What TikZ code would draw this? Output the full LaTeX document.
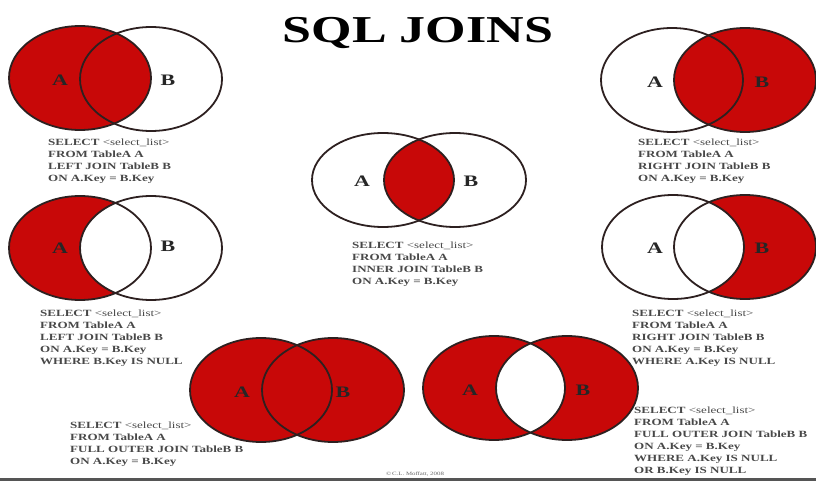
\documentclass[tikz,border=0pt]{standalone}
\usepackage{fontspec}
\setmainfont{Liberation Serif}
\newfontfamily\sqlfont[FakeStretch=1.37]{Liberation Serif}
\definecolor{joinred}{RGB}{200,8,8}
\definecolor{rimgray}{RGB}{45,32,32}
\definecolor{codegray}{RGB}{72,72,72}
\definecolor{bargray}{RGB}{85,85,85}

\tikzset{
  rim/.style={draw=rimgray, line width=1.8pt},
  setlabel/.style={font=\sqlfont\bfseries\fontsize{16}{16}\selectfont, text=black!85, inner sep=0},
  code/.style={font=\sqlfont\bfseries\fontsize{9.5}{12}\selectfont, text=codegray,
               align=left, anchor=north west, inner sep=0},
  sets/.style={x radius=71, y radius=52},
  flatsets/.style={x radius=71, y radius=47},
}
\newcommand{\sel}{SELECT {\mdseries <select\_list>}}

\begin{document}
\begin{tikzpicture}[x=1pt, y=-1pt]
\useasboundingbox (0,0) rectangle (816,481);
\fill[white] (0,0) rectangle (816,481);

% title
\node[font=\sqlfont\bfseries\fontsize{38}{38}\selectfont, anchor=base, inner sep=0]
  (title) at (418,43) {SQL JOINS};

% ---------- LEFT JOIN ----------
\fill[joinred] (80,78) ellipse [sets];
\draw[rim] (80,78) ellipse [sets];
\draw[rim] (151,79) ellipse [sets];
\node[setlabel] (lA) at (60,80) {A};
\node[setlabel] (lB) at (168,80) {B};
\node[code] (lq) at (48,139) {\sel\\FROM TableA A\\LEFT JOIN TableB B\\ON A.Key = B.Key};

% ---------- RIGHT JOIN ----------
\fill[joinred] (745,80) ellipse [sets];
\draw[rim] (672,80) ellipse [sets];
\draw[rim] (745,80) ellipse [sets];
\node[setlabel] (rA) at (655,82) {A};
\node[setlabel] (rB) at (762,82) {B};
\node[code] (rq) at (638,139) {\sel\\FROM TableA A\\RIGHT JOIN TableB B\\ON A.Key = B.Key};

% ---------- INNER JOIN ----------
\begin{scope}
  \clip (383,180) ellipse [flatsets];
  \fill[joinred] (455,180) ellipse [flatsets];
\end{scope}
\draw[rim] (383,180) ellipse [flatsets];
\draw[rim] (455,180) ellipse [flatsets];
\node[setlabel] (iA) at (362,181) {A};
\node[setlabel] (iB) at (471,181) {B};
\node[code] (iq) at (352,242) {\sel\\FROM TableA A\\INNER JOIN TableB B\\ON A.Key = B.Key};

% ---------- LEFT JOIN, B.Key IS NULL ----------
\fill[joinred] (80,248) ellipse [sets];
\begin{scope}
  \clip (80,248) ellipse [sets];
  \fill[white] (151,248) ellipse [sets];
\end{scope}
\draw[rim] (80,248) ellipse [sets];
\draw[rim] (151,248) ellipse [sets];
\node[setlabel] (laA) at (60,248) {A};
\node[setlabel] (laB) at (168,246) {B};
\node[code] (laq) at (40,310) {\sel\\FROM TableA A\\LEFT JOIN TableB B\\ON A.Key = B.Key\\WHERE B.Key IS NULL};

% ---------- RIGHT JOIN, A.Key IS NULL ----------
\fill[joinred] (745,247) ellipse [sets];
\begin{scope}
  \clip (745,247) ellipse [sets];
  \fill[white] (673,247) ellipse [sets];
\end{scope}
\draw[rim] (673,247) ellipse [sets];
\draw[rim] (745,247) ellipse [sets];
\node[setlabel] (raA) at (655,248) {A};
\node[setlabel] (raB) at (762,248) {B};
\node[code] (raq) at (632,310) {\sel\\FROM TableA A\\RIGHT JOIN TableB B\\ON A.Key = B.Key\\WHERE A.Key IS NULL};

% ---------- FULL OUTER JOIN ----------
\fill[joinred] (261,390) ellipse [sets];
\fill[joinred] (333,390) ellipse [sets];
\draw[rim] (261,390) ellipse [sets];
\draw[rim] (333,390) ellipse [sets];
\node[setlabel] (fA) at (242,392) {A};
\node[setlabel] (fB) at (343,392) {B};
\node[code] (fq) at (70,422) {\sel\\FROM TableA A\\FULL OUTER JOIN TableB B\\ON A.Key = B.Key};

% ---------- FULL OUTER JOIN, either key NULL ----------
\fill[joinred] (494,388) ellipse [sets];
\fill[joinred] (567,388) ellipse [sets];
\begin{scope}
  \clip (494,388) ellipse [sets];
  \fill[white] (567,388) ellipse [sets];
\end{scope}
\draw[rim] (494,388) ellipse [sets];
\draw[rim] (567,388) ellipse [sets];
\node[setlabel] (xA) at (470,390) {A};
\node[setlabel] (xB) at (583,390) {B};
\node[code] (xq) at (634,407) {\sel\\FROM TableA A\\FULL OUTER JOIN TableB B\\ON A.Key = B.Key\\WHERE A.Key IS NULL\\OR B.Key IS NULL};

% credit line and bottom rule
\node[font=\sqlfont\fontsize{5}{5}\selectfont, text=black!60, inner sep=0]
  (credit) at (415,474) {\textcopyright\,C.L. Moffatt, 2008};
\fill[bargray] (0,477.5) rectangle (816,481);
\end{tikzpicture}
\end{document}
